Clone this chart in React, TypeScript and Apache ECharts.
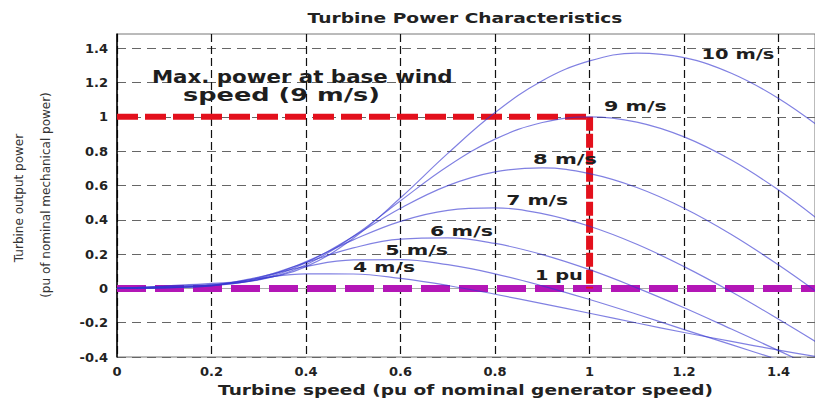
import React, { useEffect, useRef } from "react";
import * as echarts from "echarts";

// ---- data ----
const turbineSpeed = [0, 0.1, 0.2, 0.3, 0.4, 0.5, 0.6, 0.7, 0.8, 0.9, 1.0, 1.1, 1.2, 1.3, 1.4, 1.5];
const power4 = [0, 0.002, 0.019, 0.058, 0.085, 0.084, 0.058, 0.017, -0.034, -0.089, -0.145, -0.202, -0.257, -0.309, -0.36, -0.407];
const power5 = [0, 0.004, 0.016, 0.066, 0.128, 0.166, 0.168, 0.138, 0.085, 0.015, -0.065, -0.151, -0.24, -0.328, -0.416, -0.501];
const power6 = [0, 0.005, 0.015, 0.063, 0.151, 0.236, 0.287, 0.294, 0.262, 0.197, 0.109, 0.003, -0.113, -0.237, -0.363, -0.491];
const power7 = [0, 0.007, 0.016, 0.057, 0.156, 0.283, 0.391, 0.455, 0.469, 0.436, 0.362, 0.257, 0.127, -0.02, -0.18, -0.347];
const power8 = [0, 0.009, 0.019, 0.052, 0.15, 0.303, 0.467, 0.599, 0.679, 0.702, 0.669, 0.588, 0.467, 0.314, 0.136, -0.059];
const power9 = [0, 0.012, 0.023, 0.05, 0.138, 0.304, 0.511, 0.712, 0.87, 0.967, 1.0, 0.969, 0.883, 0.748, 0.573, 0.367];
const power10 = [0, 0.014, 0.029, 0.052, 0.127, 0.292, 0.528, 0.787, 1.025, 1.211, 1.326, 1.372, 1.345, 1.254, 1.107, 0.913];
const powerSeries = [power4, power5, power6, power7, power8, power9, power10];

const xTicks = [0, 0.2, 0.4, 0.6, 0.8, 1, 1.2, 1.4];
const yTicks = [-0.4, -0.2, 0, 0.2, 0.4, 0.6, 0.8, 1, 1.2, 1.4];
const xMax = 1.477;
const yMax = 1.483;

const basePowerLine = [[0, 1], [1, 1]];
const nominalSpeedLine = [[1, 1], [1, 0]];
const zeroPowerLine = [[0, 0], [1.5, 0]];

const curveLabelTexts = ["10 m/s", "9 m/s", "8 m/s", "7 m/s", "6 m/s", "5 m/s", "4 m/s", "1 pu"];
const curveLabelAnchors = [
  [1.314, 1.367], [1.097, 1.064], [0.948, 0.754], [0.889, 0.515],
  [0.729, 0.334], [0.634, 0.223], [0.565, 0.126], [0.935, 0.078],
];
const noteTexts = ["Max. power at base wind", "speed (9 m/s)"];
const noteAnchors = [[0.392, 1.233], [0.348, 1.125]];

const titleText = "Turbine Power Characteristics";
const xNameText = "Turbine speed (pu of nominal generator speed)";
const yNameLines = ["Turbine output power", "(pu of nominal mechanical power)"];

// ---- layout / style ----
const FONT = "DejaVu Sans";
const curveLabelWidths = [73, 63, 64, 62, 63, 63, 62, 48];
const noteWidths = [301, 197];

export default function App() {
  const ref = useRef<HTMLDivElement>(null);

  useEffect(() => {
    if (!ref.current) return;
    const chart = echarts.init(ref.current, null, { renderer: "svg" });

    const curveSeries = powerSeries.map((vals, k) => ({
      type: "line",
      name: curveLabelTexts[6 - k],
      data: turbineSpeed.map((x, i) => [x, vals[i]]),
      smooth: 0.4,
      symbol: "none",
      lineStyle: { color: "#3434d0", width: 1.2, opacity: 0.62 },
      z: 5,
    }));

    const fmt = (v: number) => String(Math.round(v * 10) / 10);

    chart.setOption({
      animation: false,
      backgroundColor: "#ffffff",
      grid: {
        left: 117,
        top: 34,
        right: 0,
        bottom: 46,
        show: true,
        borderColor: "#777",
        borderWidth: 1,
      },
      xAxis: {
        type: "value",
        min: xTicks[0],
        max: xMax,
        interval: xTicks[1] - xTicks[0],
        axisLine: { show: true, lineStyle: { color: "#aaa", width: 1 } },
        axisTick: { show: false },
        axisLabel: {
          showMaxLabel: false,
          margin: 8,
          color: "#222",
          fontFamily: FONT,
          fontWeight: "bold",
          fontSize: 13,
          formatter: fmt,
        },
        splitLine: {
          show: true,
          showMaxLine: false,
          lineStyle: { color: "#111", width: 1.2, type: [8, 4] },
        },
      },
      yAxis: {
        type: "value",
        min: yTicks[0],
        max: yMax,
        interval: yTicks[1] - yTicks[0],
        axisLine: { show: true, onZero: false, lineStyle: { color: "#000", width: 1.5 } },
        axisTick: { show: false },
        axisLabel: {
          showMaxLabel: false,
          margin: 9,
          color: "#222",
          fontFamily: FONT,
          fontWeight: "bold",
          fontSize: 13,
          formatter: fmt,
        },
        splitLine: {
          show: true,
          showMaxLine: false,
          lineStyle: { color: "#666", width: 1.2, type: [9, 6] },
        },
      },
      series: [
        {
          type: "line",
          data: zeroPowerLine,
          symbol: "none",
          lineStyle: { color: "#b316b6", width: 7, type: [29, 9] },
          z: 3,
        },
        {
          type: "line",
          data: basePowerLine,
          symbol: "none",
          lineStyle: { color: "#e3101c", width: 6, type: [21, 7] },
          z: 3,
        },
        {
          type: "line",
          data: nominalSpeedLine,
          symbol: "none",
          lineStyle: { color: "#e3101c", width: 7, type: [14, 3] },
          z: 3,
        },
        ...curveSeries,
      ],
    });

    const ctx = document.createElement("canvas").getContext("2d")!;
    const fit = (text: string, size: number, weight: string, target: number) => {
      if (target <= 0) return 1;
      ctx.font = `${weight} ${size}px "${FONT}"`;
      const w = ctx.measureText(text).width;
      return w > 0 ? target / w : 1;
    };
    const toPx = (p: number[]) => chart.convertToPixel({ gridIndex: 0 }, p) as number[];

    const textEl = (
      text: string, x: number, y: number, size: number, weight: string,
      target: number, color: string, rotation = 0
    ) => ({
      type: "text",
      x,
      y,
      rotation,
      scaleX: fit(text, size, weight, target),
      z: 100,
      silent: true,
      style: {
        text,
        fill: color,
        fontFamily: FONT,
        fontSize: size,
        fontWeight: weight,
        align: "center",
        verticalAlign: "middle",
      },
    });

    const graphics: any[] = [];
    graphics.push(textEl(titleText, 465, 18, 14, "bold", 315, "#222"));
    graphics.push(textEl(xNameText, 465.5, 390, 14, "bold", 495, "#222"));
    graphics.push(textEl(yNameLines[0], 19, 198, 12, "normal", 0, "#333", Math.PI / 2));
    graphics.push(textEl(yNameLines[1], 46, 195, 12, "normal", 0, "#333", Math.PI / 2));
    curveLabelTexts.forEach((t, i) => {
      const [px, py] = toPx(curveLabelAnchors[i]);
      graphics.push(textEl(t, px, py, 14, "bold", curveLabelWidths[i], "#1e1e1e"));
    });
    noteTexts.forEach((t, i) => {
      const [px, py] = toPx(noteAnchors[i]);
      graphics.push(textEl(t, px, py, 17, "bold", noteWidths[i], "#1e1e1e"));
    });

    chart.setOption({ graphic: graphics });

    return () => chart.dispose();
  }, []);

  return (
    <div
      ref={ref}
      style={{ position: "absolute", left: 0, top: 0, width: 815, height: 403, background: "#fff" }}
    />
  );
}
